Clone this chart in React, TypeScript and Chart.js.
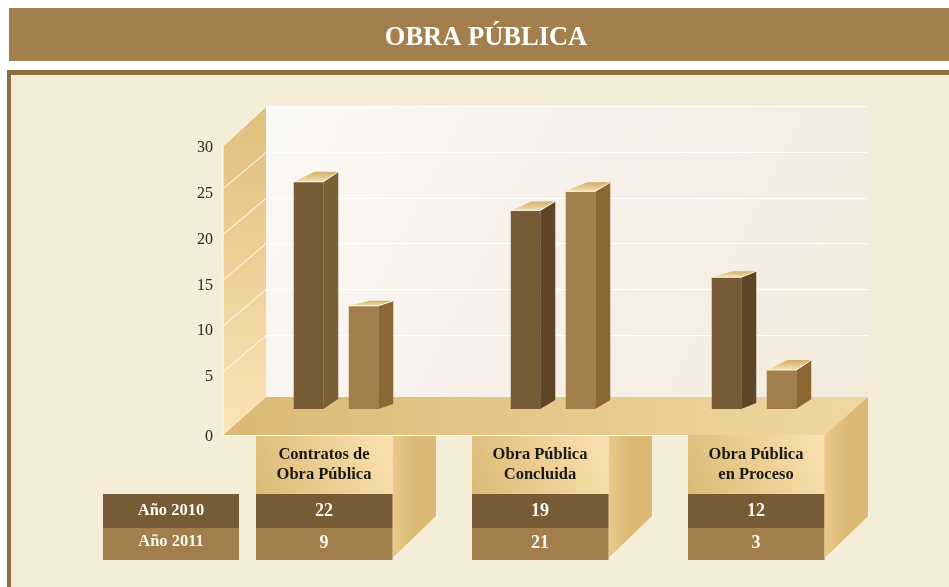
import React, { useEffect, useRef } from "react";
import { Chart, registerables, LinearScale, CategoryScale } from "chart.js";

const TITLE = "OBRA PÚBLICA";
const CATEGORIES = [["Contratos de", "Obra Pública"], ["Obra Pública", "Concluida"], ["Obra Pública", "en Proceso"]];
const SERIES_NAMES = ["Año 2010", "Año 2011"];
const VALUES_2010 = [22, 19, 12];
const VALUES_2011 = [9, 21, 3];
const Y_TICK_STEP = 5;
const Y_MAX = 30;

const SERIF = "'Liberation Serif', serif";
const COL_2010 = "#775b35";
const COL_2011 = "#a37e4d";
const PANEL = "#f4eed8";

// The picture's vertical axis is not uniform: its first band (0-5) is taller than the others.
class BandedScale extends LinearScale {
  static id = "banded";
  static defaults = {};
  getPixelForValue(value: number) {
    const share = (this.options as any).lowBandShare as number;
    const knot = (this.options as any).lowBandEnd as number;
    const f = value <= knot ? (value / knot) * share : share + ((value - knot) / (this.max - knot)) * (1 - share);
    return this.getPixelForDecimal(f);
  }
}

// The bar groups do not sit exactly under their category boxes in the picture.
const GROUP_SHIFT = [12, 13, -2];
class ShiftedCategoryScale extends CategoryScale {
  static id = "shiftedCategory";
  static defaults = {};
  getPixelForValue(value: any, index?: number) {
    const base = super.getPixelForValue(value, index);
    return base + (GROUP_SHIFT[Math.round(value)] ?? 0);
  }
}

Chart.register(...registerables, BandedScale, ShiftedCategoryScale);

const poly = (ctx: CanvasRenderingContext2D, pts: number[][], fill: any, stroke?: string) => {
  ctx.beginPath();
  pts.forEach(([x, y], i) => (i ? ctx.lineTo(x, y) : ctx.moveTo(x, y)));
  ctx.closePath();
  ctx.fillStyle = fill;
  ctx.fill();
  if (stroke) {
    ctx.strokeStyle = stroke;
    ctx.lineWidth = 1;
    ctx.stroke();
  }
};

const grad = (ctx: CanvasRenderingContext2D, x0: number, y0: number, x1: number, y1: number, stops: [number, string][]) => {
  const g = ctx.createLinearGradient(x0, y0, x1, y1);
  stops.forEach(([o, c]) => g.addColorStop(o, c));
  return g;
};

const backdrop = {
  id: "backdrop",
  beforeDraw(chart: any) {
    const ctx: CanvasRenderingContext2D = chart.ctx;
    const yScale = chart.scales.y;
    const xScale = chart.scales.x;
    ctx.save();
    ctx.fillStyle = "#ffffff";
    ctx.fillRect(0, 0, 949, 587);
    // title band
    ctx.fillStyle = "#a47f4e";
    ctx.fillRect(9, 8, 940, 53);
    // panel
    ctx.fillStyle = "#8b7140";
    ctx.fillRect(7, 70, 942, 517);
    ctx.fillStyle = PANEL;
    ctx.fillRect(11, 75, 938, 512);

    // back wall
    ctx.fillStyle = grad(ctx, 266, 106, 868, 397, [[0, "#fbf9f5"], [0.5, "#f6f0e8"], [1, "#f3ecdd"]]);
    ctx.fillRect(266, 106, 602, 291);
    // left wall
    poly(ctx, [[223, 146], [266, 106], [266, 397], [223, 435]],
      grad(ctx, 0, 120, 0, 435, [[0, "#e2c07e"], [1, "#fbe4b7"]]));
    // wall grid lines follow the value axis
    ctx.strokeStyle = "#ffffff";
    ctx.lineWidth = 1;
    yScale.ticks.forEach((t: any) => {
      if (t.value === 0) return;
      const p = yScale.getPixelForValue(t.value);
      const front = t.value === Y_MAX ? p + 26 : p + 23;
      const back = Math.round(p - 14) + 0.5;
      ctx.beginPath();
      ctx.moveTo(223, front);
      ctx.lineTo(266, back);
      ctx.lineTo(868, back);
      ctx.stroke();
    });
    ctx.beginPath();
    ctx.moveTo(223, 146);
    ctx.lineTo(223, 435);
    ctx.lineTo(266, 397);
    ctx.stroke();

    // boxes under the floor
    chart.data.labels.forEach((_: any, i: number) => {
      const cx = xScale.getPixelForValue(i);
      const l = cx - 68;
      const r = cx + 68.5;
      poly(ctx, [[r, 436], [r + 43.5, 436], [r + 43.5, 516], [r, 558]],
        grad(ctx, r, 0, r + 43.5, 0, [[0, "#e8ca8a"], [0.55, "#dcb974"], [1, "#dcba77"]]));
      ctx.fillStyle = grad(ctx, l, 494, r, 435, [[0, "#dcba75"], [1, "#fbe2b2"]]);
      ctx.fillRect(l, 435, r - l, 59);
      ctx.fillStyle = COL_2010;
      ctx.fillRect(l, 494, r - l, 34);
      ctx.fillStyle = COL_2011;
      ctx.fillRect(l, 528, r - l, 32);
    });
    // floor
    poly(ctx, [[223, 435], [825, 435], [868, 397], [266, 397]],
      grad(ctx, 223, 0, 868, 0, [[0, "#dcb974"], [1, "#f0d7a2"]]));
    ctx.strokeStyle = "#ffffff";
    ctx.beginPath();
    ctx.moveTo(223, 435.5);
    ctx.lineTo(688, 435.5);
    ctx.stroke();
    // right side of last box reaches up to the floor edge
    const rLast = xScale.getPixelForValue(2) + 68.5;
    poly(ctx, [[rLast, 435], [rLast + 43.5, 397], [rLast + 43.5, 516], [rLast, 558]],
      grad(ctx, rLast, 0, rLast + 43.5, 0, [[0, "#e8ca8a"], [0.55, "#dcb974"], [1, "#dcba77"]]));

    // row headers
    ctx.fillStyle = COL_2010;
    ctx.fillRect(103, 494, 136, 34);
    ctx.fillStyle = COL_2011;
    ctx.fillRect(103, 528, 136, 32);

    // table text
    ctx.fillStyle = "#fbf8f0";
    ctx.textAlign = "center";
    ctx.textBaseline = "middle";
    const rowsY = [511.5, 543];
    chart.data.datasets.forEach((ds: any, d: number) => {
      ctx.font = `bold 16.5px ${SERIF}`;
      ctx.fillText(ds.label, 171, rowsY[d] - (d ? 1.5 : 0.5));
      ctx.font = `bold 18px ${SERIF}`;
      ds.data.forEach((v: number, i: number) => {
        ctx.fillText(String(v), xScale.getPixelForValue(i), rowsY[d]);
      });
    });
    ctx.restore();
  },
};

// depth of each bar's top face, per dataset then per category
const TOP_DEPTH = [[10, 9, 6], [5, 9, 10]];
const SIDE_COLOURS = [["#7b5f36", "#5e4528", "#5e4529"], ["#8a6733", "#8a6733", "#8a6733"]];

const bar3d = {
  id: "bar3d",
  afterDatasetsDraw(chart: any) {
    const ctx: CanvasRenderingContext2D = chart.ctx;
    ctx.save();
    chart.data.datasets.forEach((_: any, d: number) => {
      chart.getDatasetMeta(d).data.forEach((bar: any, i: number) => {
        const x0 = bar.x - bar.width / 2;
        const x1 = bar.x + bar.width / 2;
        const dx = 15;
        const dy = TOP_DEPTH[d][i];
        poly(ctx, [[x1, bar.y], [x1 + dx, bar.y - dy], [x1 + dx, bar.base - dy], [x1, bar.base]], SIDE_COLOURS[d][i]);
        poly(ctx, [[x0, bar.y], [x1, bar.y], [x1 + dx, bar.y - dy], [x0 + 21, bar.y - dy]],
          grad(ctx, 0, bar.y - dy, 0, bar.y, [[0, "#d3ae6c"], [1, "#f5e0b0"]]));
        ctx.strokeStyle = "rgba(255,255,255,0.85)";
        ctx.lineWidth = 1;
        ctx.beginPath();
        ctx.moveTo(x0, bar.y);
        ctx.lineTo(x1, bar.y);
        ctx.lineTo(x1 + dx, bar.y - dy);
        ctx.stroke();
      });
    });
    ctx.restore();
  },
};

export default function App() {
  const ref = useRef<HTMLCanvasElement | null>(null);
  useEffect(() => {
    if (!ref.current) return;
    const chart = new Chart(ref.current, {
      type: "bar",
      data: {
        labels: CATEGORIES as any,
        datasets: [
          { label: SERIES_NAMES[0], data: VALUES_2010, backgroundColor: COL_2010, xAxisID: "xBars", yAxisID: "yBars" },
          { label: SERIES_NAMES[1], data: VALUES_2011, backgroundColor: COL_2011, xAxisID: "xBars", yAxisID: "yBars" },
        ],
      },
      options: {
        responsive: false,
        animation: false,
        layout: { padding: { left: 108, right: 85, top: 0, bottom: 0 } },
        // the smallest gap between shifted groups is 201px; each bar slot is 55px, with a 29.5px bar
        datasets: { bar: { categoryPercentage: 110 / 201, barPercentage: 29.5 / 55, borderWidth: 0 } },
        plugins: {
          legend: { display: false },
          tooltip: { enabled: false },
          title: {
            display: true,
            text: TITLE,
            color: "#ffffff",
            font: { family: SERIF, size: 26.5, weight: "bold", lineHeight: 1.2 },
            padding: { top: 22.5, bottom: 120 - 22.5 - 31.8 },
          },
        },
        scales: {
          x: {
            type: "category",
            axis: "x",
            position: "bottom",
            offset: true,
            grid: { display: false, drawTicks: false },
            border: { display: false },
            ticks: {
              autoSkip: false,
              maxRotation: 0,
              minRotation: 0,
              padding: 35.5,
              color: "#1a1710",
              font: { family: SERIF, size: 16.5, weight: "bold", lineHeight: 1.22 },
            },
            afterFit: (s: any) => { s.height = 178; },
          },
          xBars: { type: "shiftedCategory", axis: "x", display: false, offset: true },
          y: {
            type: "banded",
            axis: "y",
            position: "left",
            min: 0,
            max: Y_MAX,
            lowBandShare: 60 / 289,
            lowBandEnd: Y_TICK_STEP,
            grid: { display: false, drawTicks: false },
            border: { display: false },
            ticks: {
              stepSize: Y_TICK_STEP,
              padding: 3,
              labelOffset: 28,
              color: "#2b2620",
              font: { family: SERIF, size: 16 },
            },
            afterFit: (s: any) => { s.width = 108; },
          },
          yBars: {
            type: "banded",
            axis: "y",
            display: false,
            min: 0,
            max: 28.48,
            lowBandShare: 65 / 289,
            lowBandEnd: Y_TICK_STEP,
          },
        } as any,
      },
      plugins: [backdrop, bar3d],
    } as any);
    return () => chart.destroy();
  }, []);
  return <canvas ref={ref} width={949} height={587} style={{ position: "absolute", left: 0, top: 0, display: "block" }} />;
}
